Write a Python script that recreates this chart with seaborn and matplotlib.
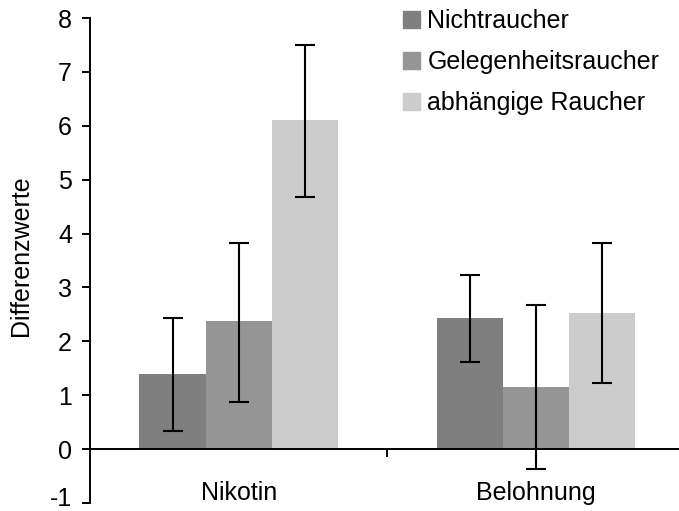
import matplotlib
matplotlib.use("Agg")
import matplotlib.pyplot as plt
import seaborn as sns
import pandas as pd
import numpy as np
from matplotlib.transforms import ScaledTranslation

categories = ["Nikotin", "Belohnung"]
groups = ["Nichtraucher", "Gelegenheitsraucher", "abhängige Raucher"]
means_nikotin = [1.40, 2.37, 6.10]
means_belohnung = [2.44, 1.16, 2.53]
low_nikotin = [0.33, 0.88, 4.68]
low_belohnung = [1.62, -0.37, 1.23]
high_nikotin = [2.43, 3.82, 7.50]
high_belohnung = [3.24, 2.67, 3.83]
yticks = [-1, 0, 1, 2, 3, 4, 5, 6, 7, 8]
colors = ["#7f7f7f", "#959595", "#cccccc"]

rows = []
for cat, m, lo, hi in [("Nikotin", means_nikotin, low_nikotin, high_nikotin),
                       ("Belohnung", means_belohnung, low_belohnung, high_belohnung)]:
    for g, v, l, h in zip(groups, m, lo, hi):
        rows.append(dict(cat=cat, group=g, value=v, lo=l, hi=h))
df = pd.DataFrame(rows)

sns.set_theme(style="white")
plt.rcParams["font.family"] = ["Liberation Sans", "DejaVu Sans"]
plt.rcParams["axes.unicode_minus"] = False
plt.rcParams["text.color"] = "black"
plt.rcParams["xtick.color"] = "black"
plt.rcParams["ytick.color"] = "black"
plt.rcParams["axes.labelcolor"] = "black"

FS = 18

fig = plt.figure(figsize=(6.79, 5.11), dpi=100)
ax = fig.add_axes([0.1325, 0.0157, 0.8675, 0.949])

sns.barplot(data=df, x="cat", y="value", hue="group", order=categories,
            hue_order=groups, palette=colors, errorbar=None, width=0.667,
            saturation=1, ax=ax, linewidth=0, legend=False)

bar_containers = list(ax.containers)
for gi, cont in enumerate(bar_containers):
    for ci, patch in enumerate(cont.patches):
        cat = categories[ci]
        row = df[(df.cat == cat) & (df.group == groups[gi])].iloc[0]
        xc = patch.get_x() + patch.get_width() / 2
        ymid = (row.lo + row.hi) / 2
        ax.errorbar(xc, ymid, yerr=(row.hi - row.lo) / 2, fmt="none",
                    ecolor="black", elinewidth=1.5, capsize=7, capthick=1.5)

ax.set_xlim(-0.5, 1.48)
ax.set_ylim(-1, 8)
ax.set_yticks(yticks)
ax.set_yticklabels([str(t) for t in yticks])
ax.set_xlabel("")
ax.set_ylabel("Differenzwerte", fontsize=FS)
ax.yaxis.set_label_coords(-0.097, 0.51)

for s in ["top", "right"]:
    ax.spines[s].set_visible(False)
ax.spines["bottom"].set_position(("data", 0))
for s in ["left", "bottom"]:
    ax.spines[s].set_linewidth(1.4)
    ax.spines[s].set_color("black")

ax.tick_params(axis="y", which="major", left=True, length=6, width=1.4,
               labelsize=FS, pad=7)
ax.tick_params(axis="x", which="major", bottom=False, labelsize=FS, pad=17)
ax.set_xticks([0.5], minor=True)
ax.tick_params(axis="x", which="minor", bottom=True, direction="out",
               length=5.5, width=1.4)

# nudge the lowest tick label up so it stays inside the canvas
lbl = ax.get_yticklabels()[0]
lbl.set_transform(lbl.get_transform() + ScaledTranslation(0, 5 / 72, fig.dpi_scale_trans))

handles = [plt.Rectangle((0, 0), 1, 1, color=c) for c in colors]
fig.legend(handles, groups, loc="upper left", bbox_to_anchor=(0.5935, 0.982),
           bbox_transform=fig.transFigure, frameon=False, fontsize=FS,
           handlelength=0.68, handleheight=0.68, handletextpad=0.3,
           labelspacing=0.68, borderaxespad=0, borderpad=0)

fig.savefig("out.png", dpi=100)
